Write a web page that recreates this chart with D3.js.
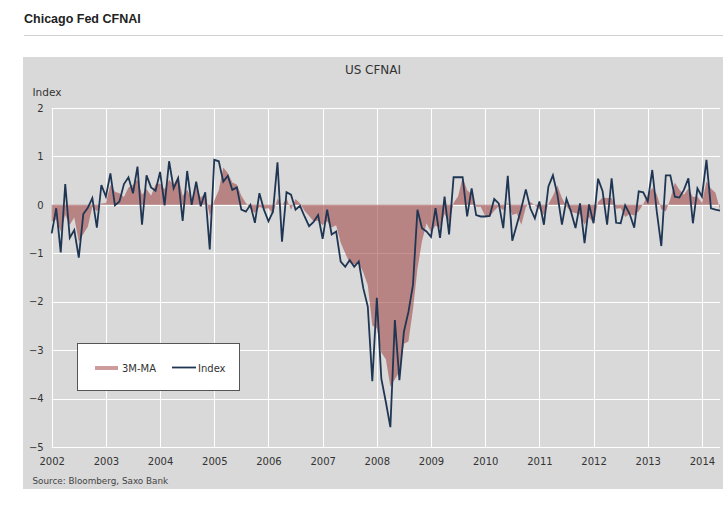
<!DOCTYPE html>
<html>
<head>
<meta charset="utf-8">
<script src="https://cdn.jsdelivr.net/npm/d3@7"></script>
<style>
  html, body { margin: 0; padding: 0; background: #ffffff; }
  svg { display: block; }
</style>
</head>
<body>
<svg id="chart" width="728" height="513"></svg>
<script>
// ---- data (monthly, Jan 2002 .. May 2014) ----
const years = ["2002","2003","2004","2005","2006","2007","2008","2009","2010","2011","2012","2013","2014"];
const yTicks = [-5, -4, -3, -2, -1, 0, 1, 2];

const indexValues = [
  -0.59, -0.07, -0.98, 0.43, -0.68, -0.52, -1.09, -0.19, -0.06, 0.14, -0.47, 0.41,
  0.17, 0.65, -0.01, 0.07, 0.43, 0.57, 0.24, 0.79, -0.41, 0.61, 0.36, 0.29,
  0.68, -0.01, 0.90, 0.34, 0.55, -0.33, 0.70, 0.00, 0.48, -0.03, 0.26, -0.92,
  0.93, 0.90, 0.48, 0.60, 0.31, 0.36, -0.10, -0.14, 0.00, -0.37, 0.24, -0.10,
  -0.34, -0.14, 0.88, -0.76, 0.26, 0.21, -0.10, -0.02, -0.24, -0.44, -0.35, -0.21,
  -0.70, -0.10, -0.61, -0.55, -1.17, -1.28, -1.14, -1.28, -1.17, -1.72, -2.10, -3.64,
  -1.92, -3.59, -4.07, -4.59, -2.38, -3.62, -2.62, -2.21, -1.66, -0.10, -0.48, -0.55,
  -0.66, -0.07, -0.68, 0.17, -0.61, 0.57, 0.57, 0.57, -0.24, 0.34, -0.21, -0.24,
  -0.24, -0.23, 0.12, 0.03, -0.48, 0.60, -0.74, -0.41, -0.07, 0.32, -0.07, -0.28,
  0.07, -0.41, 0.38, 0.61, 0.21, -0.41, 0.12, -0.14, -0.48, 0.03, -0.79, 0.01,
  -0.38, 0.54, 0.28, -0.41, 0.55, -0.37, -0.38, -0.01, -0.19, -0.47, 0.28, 0.26,
  0.07, 0.72, -0.14, -0.85, 0.61, 0.61, 0.17, 0.15, 0.31, 0.55, -0.38, 0.34,
  0.17, 0.93, -0.07, -0.10, -0.12
];

const ma3Values = [
  -0.35, -0.30, -0.55, -0.21, -0.41, -0.26, -0.76, -0.60, -0.45, -0.04, -0.13, 0.03,
  0.04, 0.41, 0.27, 0.24, 0.16, 0.36, 0.41, 0.53, 0.21, 0.33, 0.19, 0.42,
  0.44, 0.32, 0.52, 0.41, 0.60, 0.19, 0.31, 0.12, 0.39, 0.15, 0.24, -0.23,
  0.09, 0.30, 0.77, 0.66, 0.46, 0.42, 0.19, 0.04, -0.08, -0.17, -0.04, -0.08,
  -0.07, -0.19, 0.13, -0.01, 0.13, -0.10, 0.12, 0.03, -0.12, -0.23, -0.34, -0.33,
  -0.42, -0.34, -0.47, -0.42, -0.78, -1.00, -1.20, -1.23, -1.20, -1.39, -1.66, -2.49,
  -2.55, -3.05, -3.19, -3.75, -3.60, -3.45, -2.87, -2.82, -2.16, -1.32, -0.75, -0.38,
  -0.56, -0.43, -0.47, -0.19, -0.37, 0.04, 0.18, 0.57, 0.30, 0.22, -0.04, -0.04,
  -0.23, -0.24, -0.12, -0.03, -0.11, 0.05, -0.21, -0.18, -0.41, -0.05, 0.06, -0.01,
  -0.09, -0.21, 0.01, 0.19, 0.40, 0.14, -0.03, -0.14, -0.17, -0.20, -0.41, -0.25,
  -0.39, 0.06, 0.15, 0.14, 0.14, -0.08, -0.07, -0.25, -0.19, -0.22, -0.13, 0.02,
  0.20, 0.35, 0.22, -0.09, -0.13, 0.12, 0.46, 0.31, 0.21, 0.34, 0.16, 0.17,
  0.04, 0.48, 0.34, 0.25, -0.10
];

// ---- layout ----
const svg = d3.select("#chart");
const plotLeft = 51.7, plotRight = 720, plotTop = 108, plotBottom = 447;
const fontFam = "'DejaVu Sans', Verdana, sans-serif";

// page title + rule
svg.append("text").attr("x", 24).attr("y", 22.5)
  .attr("font-family", "'Liberation Sans', Arial, sans-serif")
  .attr("font-weight", "bold").attr("font-size", 12.5).attr("fill", "#222")
  .text("Chicago Fed CFNAI");
svg.append("line").attr("x1", 24).attr("x2", 723).attr("y1", 35.5).attr("y2", 35.5)
  .attr("stroke", "#d0d0d0").attr("stroke-width", 1);

// panel
svg.append("rect").attr("x", 23).attr("y", 57).attr("width", 700).attr("height", 432)
  .attr("fill", "#d9d9d9");

svg.append("text").attr("x", 373).attr("y", 74).attr("text-anchor", "middle")
  .attr("font-family", fontFam).attr("font-size", 12).attr("fill", "#333")
  .text("US CFNAI");
svg.append("text").attr("x", 32.5).attr("y", 95.5)
  .attr("font-family", fontFam).attr("font-size", 10.5).attr("fill", "#333")
  .text("Index");

// scales
const x = d3.scaleLinear().domain([0, indexValues.length - 1]).range([plotLeft, plotRight]);
const y = d3.scaleLinear().domain([-5, 2]).range([plotBottom, plotTop]);
const yearTickVals = years.map((d, i) => i * 12);

// gridlines
const grid = svg.append("g");
grid.selectAll("line.h").data(yTicks).join("line")
  .attr("x1", plotLeft).attr("x2", plotRight)
  .attr("y1", d => Math.round(y(d)) + 0.5).attr("y2", d => Math.round(y(d)) + 0.5)
  .attr("stroke", "#ffffff").attr("stroke-width", 1);
grid.selectAll("line.v").data(yearTickVals).join("line")
  .attr("x1", d => Math.round(x(d)) + 0.5).attr("x2", d => Math.round(x(d)) + 0.5)
  .attr("y1", plotTop).attr("y2", plotBottom)
  .attr("stroke", "#ffffff").attr("stroke-width", 1);

// area (3M-MA)
const areaColor = "#a24a4a";
const area = d3.area()
  .x((d, i) => x(i))
  .y0(y(0))
  .y1(d => y(d));
svg.append("path").datum(ma3Values)
  .attr("d", area)
  .attr("fill", areaColor).attr("fill-opacity", 0.6);

// index line
const lineColor = "#1e3653";
const line = d3.line().x((d, i) => x(i)).y(d => y(d));
svg.append("path").datum(indexValues)
  .attr("d", line)
  .attr("fill", "none").attr("stroke", lineColor)
  .attr("stroke-width", 1.8).attr("stroke-linejoin", "miter");

// axes
const yAxis = d3.axisLeft(y).tickValues(yTicks).tickSize(0).tickPadding(8).tickFormat(d3.format("d"));
const yG = svg.append("g").attr("transform", `translate(${plotLeft},0)`).call(yAxis);
yG.select(".domain").remove();
yG.selectAll("text").attr("font-family", fontFam).attr("font-size", 10).attr("fill", "#333");

const xAxis = d3.axisBottom(x).tickValues(yearTickVals).tickSize(0).tickPadding(10.5)
  .tickFormat((d, i) => years[i]);
const xG = svg.append("g").attr("transform", `translate(0,${plotBottom})`).call(xAxis);
xG.select(".domain").remove();
xG.selectAll("text").attr("font-family", fontFam).attr("font-size", 10).attr("fill", "#333");

// source
svg.append("text").attr("x", 32.5).attr("y", 483.5)
  .attr("font-family", fontFam).attr("font-size", 8.8).attr("fill", "#444")
  .text("Source: Bloomberg, Saxo Bank");

// legend
const lg = svg.append("g");
lg.append("rect").attr("x", 77.5).attr("y", 343.5).attr("width", 162).attr("height", 47)
  .attr("fill", "#ffffff").attr("stroke", "#555").attr("stroke-width", 1);
lg.append("rect").attr("x", 95).attr("y", 366).attr("width", 23).attr("height", 4)
  .attr("fill", areaColor).attr("fill-opacity", 0.55);
lg.append("text").attr("x", 122).attr("y", 371.5)
  .attr("font-family", fontFam).attr("font-size", 10).attr("fill", "#333").text("3M-MA");
lg.append("line").attr("x1", 172).attr("x2", 196).attr("y1", 367.5).attr("y2", 367.5)
  .attr("stroke", lineColor).attr("stroke-width", 1.8);
lg.append("text").attr("x", 198).attr("y", 371.5)
  .attr("font-family", fontFam).attr("font-size", 10).attr("fill", "#333").text("Index");
</script>
</body>
</html>
